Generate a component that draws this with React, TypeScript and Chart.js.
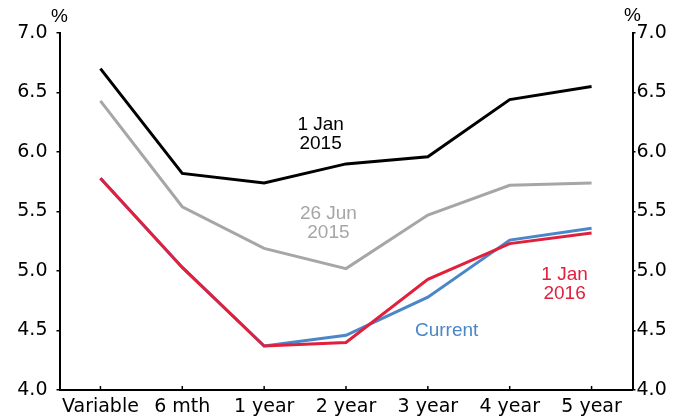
import React, { useEffect, useRef } from "react";
import { Chart, registerables } from "chart.js";

Chart.register(...registerables);

const categories = ["Variable", "6 mth", "1 year", "2 year", "3 year", "4 year", "5 year"];
const jan2015 = [6.7, 5.82, 5.74, 5.9, 5.96, 6.44, 6.55];
const jun2015 = [6.43, 5.54, 5.19, 5.02, 5.47, 5.72, 5.74];
const jan2016 = [5.78, 5.03, 4.37, 4.4, 4.93, 5.23, 5.32];
const current = [5.78, 5.03, 4.37, 4.46, 4.78, 5.26, 5.36];
const yTicks = [4.0, 4.5, 5.0, 5.5, 6.0, 6.5, 7.0];

const annotationLines = [["1 Jan", "2015"], ["26 Jun", "2015"], ["Current"], ["1 Jan", "2016"]];
const annotationX = [2.69, 2.785, 4.23, 5.67];
const annotationY = [6.15, 5.4, 4.5, 4.89];
const annotationColors = ["#000000", "#a6a6a6", "#4a86c8", "#e0203c"];

const TICK_FONT = { family: "'DejaVu Sans', sans-serif", size: 19 };

const overlay = {
  id: "overlay",
  afterDraw(chart: any) {
    const { ctx, chartArea, scales } = chart;
    const xs = scales.x;
    const ys = scales.y;
    ctx.save();
    ctx.strokeStyle = "#000";
    ctx.lineWidth = 1.5;
    categories.forEach((_, i) => {
      const px = xs.getPixelForValue(i);
      ctx.beginPath();
      ctx.moveTo(px, chartArea.bottom);
      ctx.lineTo(px, chartArea.bottom - 4);
      ctx.stroke();
    });
    ctx.fillStyle = "#000";
    ctx.textAlign = "center";
    ctx.textBaseline = "middle";
    ctx.font = "19px 'Liberation Sans', Arial, sans-serif";
    ctx.fillText("%", chartArea.left, 17);
    ctx.fillText("%", chartArea.right, 16);
    const lh = 18.5;
    annotationLines.forEach((lines, k) => {
      const cx = xs.getPixelForValue(annotationX[k]);
      const cy = ys.getPixelForValue(annotationY[k]);
      ctx.fillStyle = annotationColors[k];
      const top = cy - ((lines.length - 1) * lh) / 2;
      lines.forEach((t, j) => ctx.fillText(t, cx, top + j * lh));
    });
    ctx.restore();
  },
};

function yAxis(position: "left" | "right", width: number, padding: number) {
  return {
    type: "linear" as const,
    position,
    min: 4,
    max: 7,
    afterBuildTicks: (scale: any) => {
      scale.ticks = yTicks.map((v) => ({ value: v }));
    },
    afterFit: (scale: any) => {
      scale.width = width;
    },
    ticks: {
      color: "#000",
      font: TICK_FONT,
      padding,
      callback: (v: any) => Number(v).toFixed(1),
    },
    grid: {
      display: true,
      drawOnChartArea: false,
      drawTicks: true,
      tickLength: 3,
      color: "#000",
      lineWidth: 1.5,
    },
    border: { display: true, color: "#000", width: 2 },
  };
}

export default function App() {
  const ref = useRef<HTMLCanvasElement | null>(null);
  useEffect(() => {
    if (!ref.current) return;
    const chart = new Chart(ref.current, {
      type: "line",
      data: {
        labels: categories,
        datasets: [
          { label: "1 Jan 2016", data: jan2016, borderColor: "#e0203c", yAxisID: "y" },
          { label: "Current", data: current, borderColor: "#4a86c8", yAxisID: "y" },
          { label: "26 Jun 2015", data: jun2015, borderColor: "#a6a6a6", yAxisID: "y" },
          { label: "1 Jan 2015", data: jan2015, borderColor: "#000000", yAxisID: "y" },
        ].map((d) => ({
          ...d,
          borderWidth: 3,
          pointRadius: 0,
          pointHoverRadius: 0,
          tension: 0,
          fill: false,
        })),
      },
      options: {
        animation: false,
        responsive: false,
        maintainAspectRatio: false,
        layout: { padding: { top: 33, left: 0, right: 0, bottom: 0 } },
        plugins: {
          legend: { display: false },
          tooltip: { enabled: false },
        },
        scales: {
          x: {
            type: "category",
            offset: true,
            afterFit: (scale: any) => {
              scale.height = 29;
            },
            ticks: {
              color: "#000",
              font: TICK_FONT,
              padding: 6,
              maxRotation: 0,
              autoSkip: false,
            },
            grid: { display: false, drawTicks: false, tickLength: 0 },
            border: { display: true, color: "#000", width: 2 },
          },
          y: yAxis("left", 59.5, 9),
          y2: yAxis("right", 40.5, 1),
        },
      },
      plugins: [overlay],
    });
    return () => chart.destroy();
  }, []);
  return (
    <div
      style={{
        position: "fixed",
        left: 0,
        top: 0,
        width: 673,
        height: 419,
        background: "#fff",
      }}
    >
      <canvas ref={ref} width={673} height={419} style={{ display: "block" }} />
    </div>
  );
}
